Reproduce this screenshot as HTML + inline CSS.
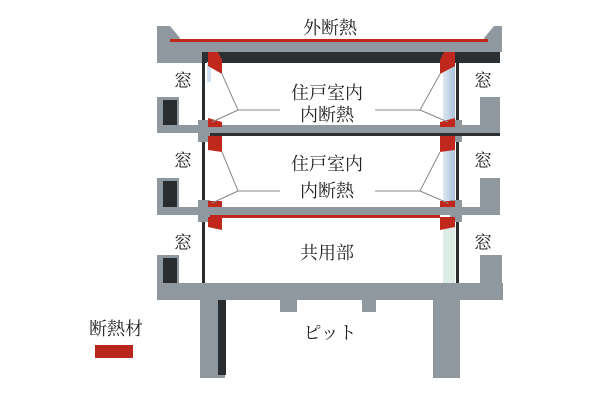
<!DOCTYPE html>
<html><head><meta charset="utf-8"><style>
html,body{margin:0;padding:0;background:#fff;}
svg{display:block}
text{font-family:"Liberation Serif","Noto Serif CJK SC","Noto Sans CJK JP",serif;font-size:18px;fill:#222;}
</style></head><body>
<svg width="600" height="413" viewBox="0 0 600 413" xmlns="http://www.w3.org/2000/svg">
<defs>
<linearGradient id="gl" x1="0" x2="1"><stop offset="0" stop-color="#dde8f2"/><stop offset="1" stop-color="#a9c2dc"/></linearGradient>
</defs>
<g fill="#8f979f">
<!-- roof -->
<polygon points="157,26 170,26 180,38 180,42 157,42"/>
<polygon points="484,42 484,38 494,26 502,26 502,42"/>
<rect x="157" y="40" width="345" height="12"/>
<rect x="157" y="50" width="45" height="13"/>
</g>
<rect x="202" y="52" width="298" height="11" fill="#2c3033"/>
<rect x="170" y="39" width="318" height="3" fill="#c0281e"/>
<!-- glass -->
<rect x="443" y="62" width="12" height="65" fill="url(#gl)"/>
<rect x="443" y="137" width="12" height="70" fill="url(#gl)"/>
<rect x="443" y="225" width="12" height="58" fill="#dcebe4"/>
<rect x="207" y="62" width="4" height="20" fill="#cfe0f0"/>
<!-- columns -->
<rect x="202" y="55" width="3" height="230" fill="#2a2d30"/>
<rect x="456" y="55" width="3" height="230" fill="#2a2d30"/>
<!-- floors -->
<g fill="#8f979f">
<rect x="157" y="97" width="22" height="36"/>
<rect x="480" y="97" width="20" height="36"/>
<rect x="157" y="125" width="343" height="8"/>
<rect x="157" y="178" width="22" height="36"/>
<rect x="480" y="178" width="20" height="36"/>
<rect x="157" y="207" width="343" height="8"/>
<rect x="157" y="255" width="22" height="40"/>
<rect x="480" y="255" width="22" height="40"/>
<rect x="157" y="283" width="346" height="17"/>
<rect x="198" y="120" width="12" height="22"/>
<rect x="450" y="120" width="12" height="22"/>
<rect x="198" y="200" width="12" height="22"/>
<rect x="450" y="200" width="12" height="22"/>
<rect x="200" y="295" width="25" height="83"/>
<rect x="433" y="295" width="27" height="83"/>
<rect x="280" y="298" width="17" height="14"/>
<rect x="362" y="298" width="14" height="14"/>
</g>
<rect x="163" y="100" width="14" height="25" fill="#2a2d30"/>
<rect x="163" y="181" width="14" height="26" fill="#2a2d30"/>
<rect x="163" y="258" width="14" height="25" fill="#2a2d30"/>
<rect x="218" y="300" width="8" height="75" fill="#2a2d30"/>
<rect x="210" y="133" width="290" height="3" fill="#2c3033"/>
<rect x="210" y="215" width="230" height="3" fill="#c0281e"/>
<!-- red pads -->
<g fill="#c0281e">
<polygon points="208,52 218,52 222,60 222,74 208,66"/>
<polygon points="440,60 444,52 455,52 455,66 440,74"/>
<polygon points="208,118 222,122 222,127 208,127"/>
<polygon points="440,122 455,118 455,127 440,127"/>
<polygon points="208,136 222,136 222,152 208,150"/>
<polygon points="440,136 455,136 455,150 440,152"/>
<polygon points="208,201 222,201 222,207 208,207"/>
<polygon points="440,201 455,201 455,207 440,207"/>
<polygon points="208,217 222,217 222,230 208,227"/>
<polygon points="440,217 455,217 455,227 440,230"/>
</g>
<!-- leaders -->
<g stroke="#888" stroke-width="1" fill="none">
<polyline points="222,74 238,110 280,110"/><line x1="238" y1="110" x2="212" y2="122"/>
<polyline points="440,74 420,110 375,110"/><line x1="420" y1="110" x2="448" y2="122"/>
<polyline points="222,152 238,191 280,191"/><line x1="238" y1="191" x2="212" y2="203"/>
<polyline points="440,152 420,191 375,191"/><line x1="420" y1="191" x2="448" y2="203"/>
</g>
<text x="330" y="34" text-anchor="middle">外断熱</text>
<text x="327" y="99" text-anchor="middle">住戸室内</text>
<text x="327" y="121" text-anchor="middle">内断熱</text>
<text x="327" y="170" text-anchor="middle">住戸室内</text>
<text x="327" y="197" text-anchor="middle">内断熱</text>
<text x="327" y="259" text-anchor="middle">共用部</text>
<text x="330" y="339" text-anchor="middle">ピット</text>
<text x="183" y="87" text-anchor="middle">窓</text>
<text x="183" y="167" text-anchor="middle">窓</text>
<text x="183" y="249" text-anchor="middle">窓</text>
<text x="483" y="87" text-anchor="middle">窓</text>
<text x="483" y="167" text-anchor="middle">窓</text>
<text x="483" y="249" text-anchor="middle">窓</text>
<text x="116" y="335" text-anchor="middle">断熱材</text>
<rect x="95" y="345" width="38" height="13" fill="#b8261c"/>
</svg>
</body></html>
